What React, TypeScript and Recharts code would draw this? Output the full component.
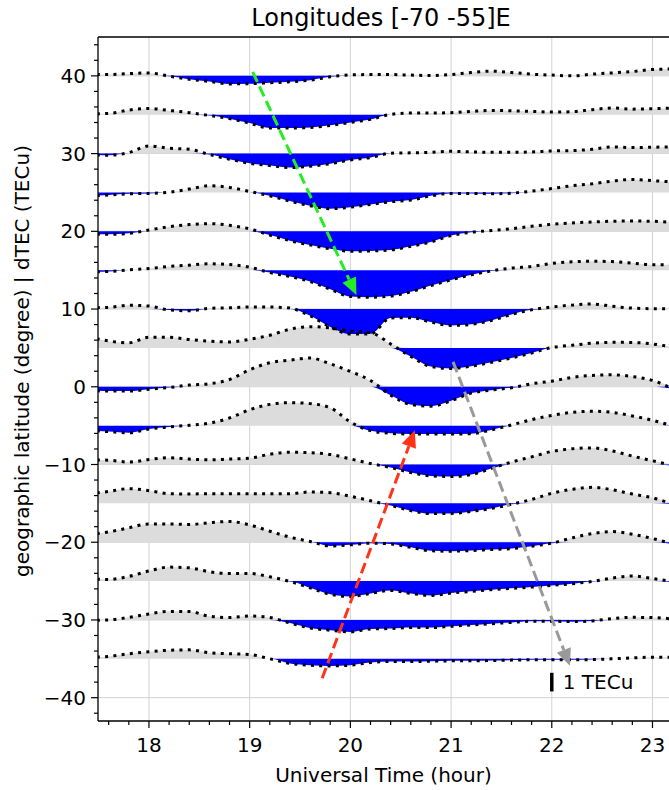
import React from 'react';
import { ComposedChart, Area, Line, XAxis, YAxis, CartesianGrid, ReferenceLine } from 'recharts';

const FONT = '"DejaVu Sans", Verdana, sans-serif';

// hours (UT), every 0.2 h
const TIMES = [
  17.4, 17.6, 17.8, 18.0, 18.2, 18.4, 18.6, 18.8, 19.0, 19.2,
  19.4, 19.6, 19.8, 20.0, 20.2, 20.4, 20.6, 20.8, 21.0, 21.2,
  21.4, 21.6, 21.8, 22.0, 22.2, 22.4, 22.6, 22.8, 23.0, 23.2,
];

const LATITUDES = [40, 35, 30, 25, 20, 15, 10, 5, 0, -5, -10, -15, -20, -25, -30, -35];

// dTEC in TECu for each latitude band
const DTEC_40 = [0.07, 0.07, 0.12, 0.16, -0.02, -0.18, -0.3, -0.43, -0.42, -0.37, -0.32, -0.23, -0.05, 0.05, 0.07, 0.07, 0.04, 0.02, 0.07, 0.18, 0.25, 0.18, 0.09, 0.04, 0.0, 0.09, 0.16, 0.23, 0.34, 0.37];
const DTEC_35 = [0.05, 0.07, 0.25, 0.34, 0.23, 0.11, -0.04, -0.21, -0.45, -0.71, -0.71, -0.68, -0.57, -0.41, -0.25, 0.02, 0.09, 0.09, 0.11, 0.18, 0.23, 0.21, 0.18, 0.14, 0.16, 0.27, 0.36, 0.3, 0.32, 0.36];
const DTEC_30 = [-0.05, -0.09, 0.05, 0.41, 0.29, 0.23, -0.05, -0.3, -0.52, -0.64, -0.75, -0.68, -0.54, -0.34, -0.21, 0.02, 0.04, 0.07, 0.12, 0.09, 0.07, 0.07, 0.09, 0.14, 0.16, 0.23, 0.36, 0.32, 0.34, 0.36];
const DTEC_25 = [-0.18, -0.14, -0.07, -0.05, 0.01, 0.18, 0.36, 0.27, 0.05, -0.18, -0.46, -0.71, -0.87, -0.79, -0.64, -0.5, -0.41, -0.18, -0.05, -0.05, -0.07, -0.04, 0.07, 0.21, 0.36, 0.46, 0.61, 0.7, 0.63, 0.57];
const DTEC_20 = [-0.16, -0.16, -0.11, 0.07, 0.25, 0.36, 0.41, 0.32, 0.13, -0.2, -0.5, -0.73, -0.93, -1.07, -1.05, -1.0, -0.8, -0.57, -0.23, -0.05, 0.04, 0.14, 0.27, 0.38, 0.45, 0.5, 0.54, 0.55, 0.54, 0.48];
const DTEC_15 = [-0.09, -0.07, 0.02, 0.09, 0.2, 0.27, 0.34, 0.3, 0.16, -0.13, -0.34, -0.61, -1.02, -1.41, -1.45, -1.39, -1.16, -0.82, -0.52, -0.25, -0.04, 0.11, 0.2, 0.36, 0.45, 0.48, 0.46, 0.38, 0.29, 0.29];
const DTEC_10 = [0.07, 0.09, 0.2, 0.16, -0.05, -0.09, 0.04, 0.07, 0.11, 0.11, 0.05, -0.36, -0.96, -1.34, -1.33, -0.48, -0.46, -0.7, -0.88, -0.82, -0.61, -0.29, -0.04, 0.11, 0.21, 0.27, 0.15, 0.05, 0.02, 0.02];
const DTEC_5 = [0.6, 0.37, 0.27, 0.57, 0.57, 0.45, 0.36, 0.32, 0.46, 0.68, 1.0, 1.14, 1.07, 0.91, 0.82, 0.21, -0.46, -1.0, -1.1, -0.98, -0.77, -0.54, -0.27, 0.02, 0.14, 0.25, 0.3, 0.29, 0.21, 0.04];
const DTEC_0 = [-0.2, -0.23, -0.23, -0.13, -0.04, 0.09, 0.16, 0.39, 0.91, 1.29, 1.43, 1.54, 1.23, 0.82, 0.34, -0.45, -0.95, -1.04, -0.75, -0.34, -0.18, -0.05, 0.16, 0.3, 0.5, 0.61, 0.64, 0.55, 0.34, -0.1];
const DTEC_M5 = [-0.25, -0.32, -0.38, -0.18, -0.07, 0.02, 0.13, 0.41, 0.85, 1.14, 1.23, 1.18, 0.96, 0.2, -0.27, -0.41, -0.45, -0.45, -0.45, -0.43, -0.23, 0.04, 0.32, 0.55, 0.71, 0.77, 0.71, 0.52, 0.29, -0.02];
const DTEC_M10 = [0.25, 0.23, 0.13, 0.27, 0.36, 0.29, 0.25, 0.29, 0.34, 0.55, 0.66, 0.63, 0.54, 0.3, 0.05, -0.16, -0.43, -0.61, -0.64, -0.54, -0.21, 0.13, 0.41, 0.7, 0.84, 0.89, 0.73, 0.45, 0.2, -0.05];
const DTEC_M15 = [0.5, 0.64, 0.79, 0.68, 0.52, 0.5, 0.52, 0.52, 0.52, 0.52, 0.52, 0.61, 0.57, 0.38, 0.14, -0.11, -0.39, -0.55, -0.54, -0.43, -0.27, -0.05, 0.21, 0.54, 0.75, 0.86, 0.73, 0.5, 0.3, -0.04];
const DTEC_M20 = [0.4, 0.55, 0.77, 0.98, 0.98, 0.95, 1.05, 1.11, 0.93, 0.59, 0.27, 0.04, -0.2, -0.14, -0.05, -0.09, -0.27, -0.46, -0.48, -0.45, -0.39, -0.34, -0.21, -0.05, 0.23, 0.46, 0.57, 0.43, 0.2, -0.09];
const DTEC_M25 = [0.1, 0.09, 0.25, 0.54, 0.75, 0.71, 0.5, 0.41, 0.41, 0.23, -0.02, -0.36, -0.71, -0.82, -0.66, -0.5, -0.66, -0.77, -0.64, -0.55, -0.46, -0.39, -0.32, -0.23, -0.14, -0.02, 0.16, 0.27, 0.14, -0.04];
const DTEC_M30 = [-0.02, 0.0, 0.14, 0.32, 0.46, 0.45, 0.2, 0.13, 0.21, 0.13, -0.16, -0.43, -0.55, -0.64, -0.48, -0.46, -0.41, -0.41, -0.34, -0.27, -0.2, -0.13, -0.07, -0.07, -0.09, -0.05, 0.07, 0.14, 0.13, 0.05];
const DTEC_M35 = [0.07, 0.13, 0.27, 0.38, 0.46, 0.48, 0.32, 0.27, 0.23, 0.0, -0.25, -0.34, -0.38, -0.34, -0.2, -0.14, -0.14, -0.13, -0.11, -0.11, -0.09, -0.07, -0.05, -0.05, -0.05, -0.04, 0.0, 0.05, 0.09, 0.09];

const SERIES = [
  DTEC_40, DTEC_35, DTEC_30, DTEC_25, DTEC_20, DTEC_15, DTEC_10, DTEC_5,
  DTEC_0, DTEC_M5, DTEC_M10, DTEC_M15, DTEC_M20, DTEC_M25, DTEC_M30, DTEC_M35,
];

// degrees of latitude per 1 TECu
const SCALE = 2.4;

const X_MAJOR = [18, 19, 20, 21, 22, 23];
const Y_MAJOR = [-40, -30, -20, -10, 0, 10, 20, 30, 40];
const X_TICKS = Array.from({ length: 28 }, (_, i) => Math.round((17.6 + i * 0.2) * 10) / 10);
const Y_TICKS = Array.from({ length: 44 }, (_, i) => -42 + i * 2);

// annotation arrows (hour, latitude)
const GREEN_ARROW = [{ x: 19.03, y: 40.5 }, { x: 20.06, y: 11.8 }];
const RED_ARROW = [{ x: 19.72, y: -37.5 }, { x: 20.64, y: -5.6 }];
const GRAY_ARROW = [{ x: 21.02, y: 3.2 }, { x: 22.18, y: -35.9 }];
const SCALE_BAR_AT = { x: 22, y: -38 };

const chartData = TIMES.map((t, j) => {
  const row: Record<string, any> = { t };
  LATITUDES.forEach((lat, i) => {
    const v = SERIES[i][j] * SCALE;
    row[`pos${i}`] = [lat, lat + Math.max(v, 0)];
    row[`neg${i}`] = [lat + Math.min(v, 0), lat];
    row[`line${i}`] = lat + v;
  });
  return row;
});

const fmt = (v: number) => (v < 0 ? `\u2212${Math.abs(v)}` : `${v}`);

function XTick(props: any) {
  const { x, y, payload } = props;
  const v = payload.value;
  const major = Math.abs(v - Math.round(v)) < 1e-6;
  return (
    <g>
      <line x1={x} x2={x} y1={y} y2={y + (major ? 7 : 4)} stroke="#000" strokeWidth={1.2} />
      {major && (
        <text x={x} y={y + 31} textAnchor="middle" fontSize={20} fontFamily={FONT} fill="#000">
          {fmt(v)}
        </text>
      )}
    </g>
  );
}

function YTick(props: any) {
  const { x, y, payload } = props;
  const v = payload.value;
  const major = v % 10 === 0;
  return (
    <g>
      <line x1={x - (major ? 7 : 4)} x2={x} y1={y} y2={y} stroke="#000" strokeWidth={1.2} />
      {major && (
        <text x={x - 12} y={y + 7} textAnchor="end" fontSize={20} fontFamily={FONT} fill="#000">
          {fmt(v)}
        </text>
      )}
    </g>
  );
}

function arrowShape(color: string) {
  return (p: any) => {
    const { x1, y1, x2, y2 } = p;
    const dx = x2 - x1;
    const dy = y2 - y1;
    const len = Math.hypot(dx, dy) || 1;
    const ux = dx / len;
    const uy = dy / len;
    const hl = 17;
    const hw = 7.5;
    const bx = x2 - ux * hl;
    const by = y2 - uy * hl;
    return (
      <g>
        <line x1={x1} y1={y1} x2={bx} y2={by} stroke={color} strokeWidth={3} strokeDasharray="11 5" />
        <polygon
          points={`${x2},${y2} ${bx - uy * hw},${by + ux * hw} ${bx + uy * hw},${by - ux * hw}`}
          fill={color}
        />
      </g>
    );
  };
}

function scaleBarShape(p: any) {
  const { x1, y1, x2, y2 } = p;
  return (
    <g>
      <line x1={x1} y1={y1} x2={x2} y2={y2} stroke="#000" strokeWidth={3.5} />
      <text x={x1 + 11} y={(y1 + y2) / 2 + 7} fontSize={20} fontFamily={FONT} fill="#000">
        1 TECu
      </text>
    </g>
  );
}

const order = LATITUDES.map((_, i) => i).reverse();

export default function App() {
  return (
    <div style={{ position: 'absolute', left: 0, top: 0, width: 669, height: 790, background: '#fff' }}>
      <ComposedChart
        width={669}
        height={790}
        data={chartData}
        margin={{ top: 37, right: 0, bottom: 0, left: 0 }}
      >
        <CartesianGrid horizontalValues={Y_MAJOR} verticalValues={X_MAJOR} stroke="#d2d2d2" strokeWidth={1} />
        <XAxis
          dataKey="t"
          type="number"
          domain={[17.494, 23.164]}
          allowDataOverflow
          ticks={X_TICKS}
          interval={0}
          tick={<XTick />}
          tickLine={false}
          tickSize={0}
          tickMargin={0}
          height={69}
          axisLine={{ stroke: '#000', strokeWidth: 1.3 }}
        />
        <YAxis
          type="number"
          domain={[-43, 45]}
          allowDataOverflow
          ticks={Y_TICKS}
          interval={0}
          tick={<YTick />}
          tickLine={false}
          tickSize={0}
          tickMargin={0}
          width={98}
          axisLine={{ stroke: '#000', strokeWidth: 1.3 }}
        />
        {order.map((i) => [
          <Area
            key={`pos${i}`}
            dataKey={`pos${i}`}
            type="monotone"
            fill="#dcdcdc"
            fillOpacity={1}
            stroke="none"
            activeDot={false}
            isAnimationActive={false}
          />,
          <Area
            key={`neg${i}`}
            dataKey={`neg${i}`}
            type="monotone"
            fill="#0000ff"
            fillOpacity={1}
            stroke="none"
            activeDot={false}
            isAnimationActive={false}
          />,
          <Line
            key={`line${i}`}
            dataKey={`line${i}`}
            type="monotone"
            stroke="#000"
            strokeWidth={3}
            strokeDasharray="3 5.3"
            dot={false}
            activeDot={false}
            isAnimationActive={false}
          />,
        ])}
        <ReferenceLine y={45} stroke="#000" strokeWidth={1.3} />
        <ReferenceLine segment={GREEN_ARROW} shape={arrowShape('#22ee22')} />
        <ReferenceLine segment={RED_ARROW} shape={arrowShape('#ff3318')} />
        <ReferenceLine segment={GRAY_ARROW} shape={arrowShape('#999999')} />
        <ReferenceLine
          segment={[
            { x: SCALE_BAR_AT.x, y: SCALE_BAR_AT.y - SCALE / 2 },
            { x: SCALE_BAR_AT.x, y: SCALE_BAR_AT.y + SCALE / 2 },
          ]}
          shape={scaleBarShape}
        />
      </ComposedChart>
      <svg
        width={669}
        height={790}
        style={{ position: 'absolute', left: 0, top: 0, pointerEvents: 'none' }}
      >
        <text x={381} y={26} textAnchor="middle" fontSize={24} fontFamily={FONT} fill="#000">
          Longitudes [-70 -55]E
        </text>
        <text x={383.5} y={782} textAnchor="middle" fontSize={20} fontFamily={FONT} fill="#000">
          Universal Time (hour)
        </text>
        <text
          x={0}
          y={0}
          transform="translate(29 361) rotate(-90)"
          textAnchor="middle"
          fontSize={20}
          fontFamily={FONT}
          fill="#000"
        >
          geographic latitude (degree) | dTEC (TECu)
        </text>
      </svg>
    </div>
  );
}
